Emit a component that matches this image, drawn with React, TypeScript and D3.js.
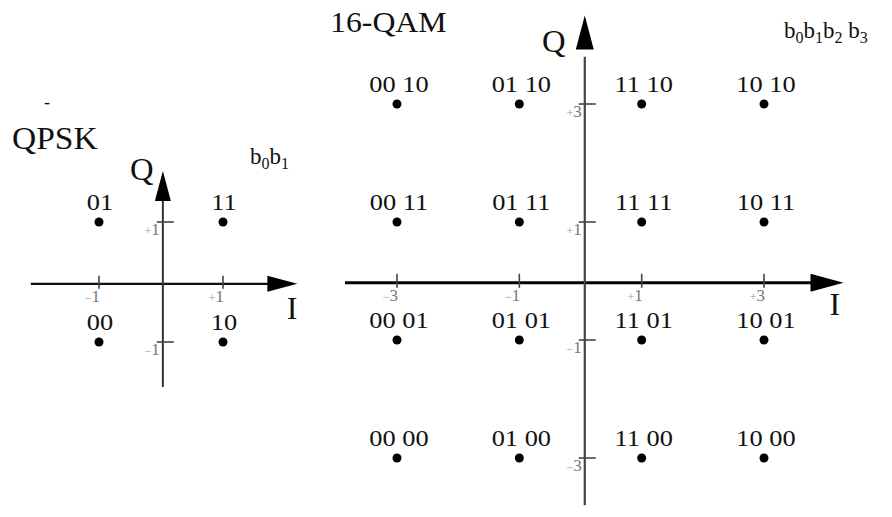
import React from "react";
import * as d3 from "d3";

// ---------- data ----------
const qpskI = [-1, 1, -1, 1];
const qpskQ = [1, 1, -1, -1];
const qpskLabels = ["01", "11", "00", "10"];
const qpskTicks = [-1, 1];

const qamLevels = [-3, -1, 1, 3];
const qamIBits = ["00", "01", "11", "10"]; // columns I = -3,-1,+1,+3
const qamQBits = ["00", "01", "11", "10"]; // rows Q = -3,-1,+1,+3
const qamTicks = [-3, -1, 1, 3];

const W = 892;
const H = 517;
const FONT = "Liberation Serif, DejaVu Serif, serif";

const fmtTick = (v: number) => (v > 0 ? "+" + v : "\u2212" + Math.abs(v));

function SText({ x, y, size, sx = 1.15, anchor = "start", fill = "#111", children }: any) {
  return (
    <text
      transform={`translate(${x},${y}) scale(${sx},1)`}
      fontFamily={FONT}
      fontSize={size}
      textAnchor={anchor}
      fill={fill}
    >
      {children}
    </text>
  );
}

function Arrow({ x, y, dir, len, half }: any) {
  let pts: [number, number][];
  if (dir === "right") pts = [[x, y], [x - len, y - half], [x - len, y + half]];
  else pts = [[x, y], [x - half, y + len], [x + half, y + len]];
  return <polygon points={pts.map((p) => p.join(",")).join(" ")} fill="#000" />;
}

function TickLabel({ x, y, v }: any) {
  const s = fmtTick(v);
  return (
    <text x={x} y={y} fontFamily={FONT} fontSize={17} fill="#777" textAnchor="end">
      <tspan fontSize={12} fill="#999">{s[0]}</tspan>
      {s.slice(1)}
    </text>
  );
}

export default function App() {
  const xq = d3.scaleLinear().domain([-1, 1]).range([99, 223]);
  const yq = d3.scaleLinear().domain([-1, 1]).range([342, 222]);
  const x16 = d3.scaleLinear().domain([-3, 3]).range([397, 764]);
  const y16 = d3.scaleLinear().domain([-3, 3]).range([458, 104]);

  // vertical axes sit slightly right of zero in the original drawing
  const q0x = xq(0.03);
  const q0y = yq(-0.03);
  const m0x = x16(0.07);
  const m0y = y16(-0.03);

  const qamPts: { i: number; q: number; label: string }[] = [];
  qamLevels.forEach((q, qi) =>
    qamLevels.forEach((i, ii) => qamPts.push({ i, q, label: qamIBits[ii] + " " + qamQBits[qi] }))
  );

  return (
    <svg width={W} height={H} style={{ position: "absolute", left: 0, top: 0, background: "#fff" }}>
      <rect width={W} height={H} fill="#fff" />

      {/* ---------------- QPSK ---------------- */}
      <SText x={44} y={108} size={18} sx={1}>-</SText>
      <SText x={12} y={149} size={31} sx={1.08}>QPSK</SText>
      <SText x={130} y={180} size={32} sx={1.02}>Q</SText>
      <text x={250} y={164} fontFamily={FONT} fontSize={23} fill="#111">
        b<tspan fontSize={16} dy={5}>0</tspan>
        <tspan fontSize={23} dy={-5}>b</tspan>
        <tspan fontSize={16} dy={5}>1</tspan>
      </text>
      <line x1={xq(-2.1)} x2={xq(1.75)} y1={q0y} y2={q0y} stroke="#111" strokeWidth={2.2} />
      <Arrow x={xq(2.2)} y={q0y} dir="right" len={30} half={8} />
      <line x1={q0x} x2={q0x} y1={yq(-1.75)} y2={yq(1.4)} stroke="#333" strokeWidth={2} />
      <Arrow x={q0x} y={yq(1.85)} dir="up" len={30} half={8} />
      <SText x={xq(2.03)} y={q0y + 35} size={32} sx={1}>I</SText>
      {qpskTicks.map((t) => (
        <g key={"qx" + t}>
          <line x1={xq(t)} x2={xq(t)} y1={q0y - 8} y2={q0y + 5} stroke="#444" strokeWidth={1.6} />
          <TickLabel x={xq(t) + 1} y={q0y + 18} v={t} />
        </g>
      ))}
      {qpskTicks.map((t) => (
        <g key={"qy" + t}>
          <line x1={q0x - 6} x2={q0x + 11} y1={yq(t)} y2={yq(t)} stroke="#444" strokeWidth={1.6} />
          <TickLabel x={q0x - 3} y={yq(t) + 13} v={t} />
        </g>
      ))}
      {qpskI.map((iv, k) => (
        <g key={"qp" + k}>
          <circle cx={xq(iv)} cy={yq(qpskQ[k])} r={4.5} fill="#000" />
          <SText x={xq(iv) + 1} y={yq(qpskQ[k]) - 12} size={24} sx={1.1} anchor="middle">
            {qpskLabels[k]}
          </SText>
        </g>
      ))}

      {/* ---------------- 16-QAM ---------------- */}
      <SText x={330} y={32} size={30} sx={1.06}>16-QAM</SText>
      <SText x={542} y={52} size={32} sx={1.02}>Q</SText>
      <text x={784} y={38} fontFamily={FONT} fontSize={23} fill="#111">
        b<tspan fontSize={16} dy={5}>0</tspan>
        <tspan fontSize={23} dy={-5}>b</tspan>
        <tspan fontSize={16} dy={5}>1</tspan>
        <tspan fontSize={23} dy={-5}>b</tspan>
        <tspan fontSize={16} dy={5}>2</tspan>
        <tspan fontSize={23} dy={-5}> b</tspan>
        <tspan fontSize={16} dy={5}>3</tspan>
      </text>
      <line x1={x16(-3.85)} x2={x16(3.85)} y1={m0y} y2={m0y} stroke="#000" strokeWidth={3} />
      <Arrow x={x16(4.3)} y={m0y} dir="right" len={33} half={9} />
      <line x1={m0x} x2={m0x} y1={y16(-3.8)} y2={y16(3.8)} stroke="#444" strokeWidth={2.2} />
      <Arrow x={m0x} y={y16(4.5)} dir="up" len={34} half={9} />
      <SText x={x16(4.07)} y={m0y + 32} size={32} sx={1}>I</SText>
      {qamTicks.map((t) => (
        <g key={"mx" + t}>
          <line x1={x16(t)} x2={x16(t)} y1={m0y - 9} y2={m0y + 5} stroke="#444" strokeWidth={1.6} />
          <TickLabel x={x16(t) + 1} y={m0y + 18} v={t} />
        </g>
      ))}
      {qamTicks.map((t) => (
        <g key={"my" + t}>
          <line x1={m0x - 6} x2={m0x + 11} y1={y16(t)} y2={y16(t)} stroke="#444" strokeWidth={1.6} />
          <TickLabel x={m0x - 3} y={y16(t) + 13} v={t} />
        </g>
      ))}
      {qamPts.map((p, k) => (
        <g key={"mp" + k}>
          <circle cx={x16(p.i)} cy={y16(p.q)} r={4.5} fill="#000" />
          <SText x={x16(p.i) + 2} y={y16(p.q) - 12} size={24} sx={1.1} anchor="middle">
            {p.label}
          </SText>
        </g>
      ))}
    </svg>
  );
}
